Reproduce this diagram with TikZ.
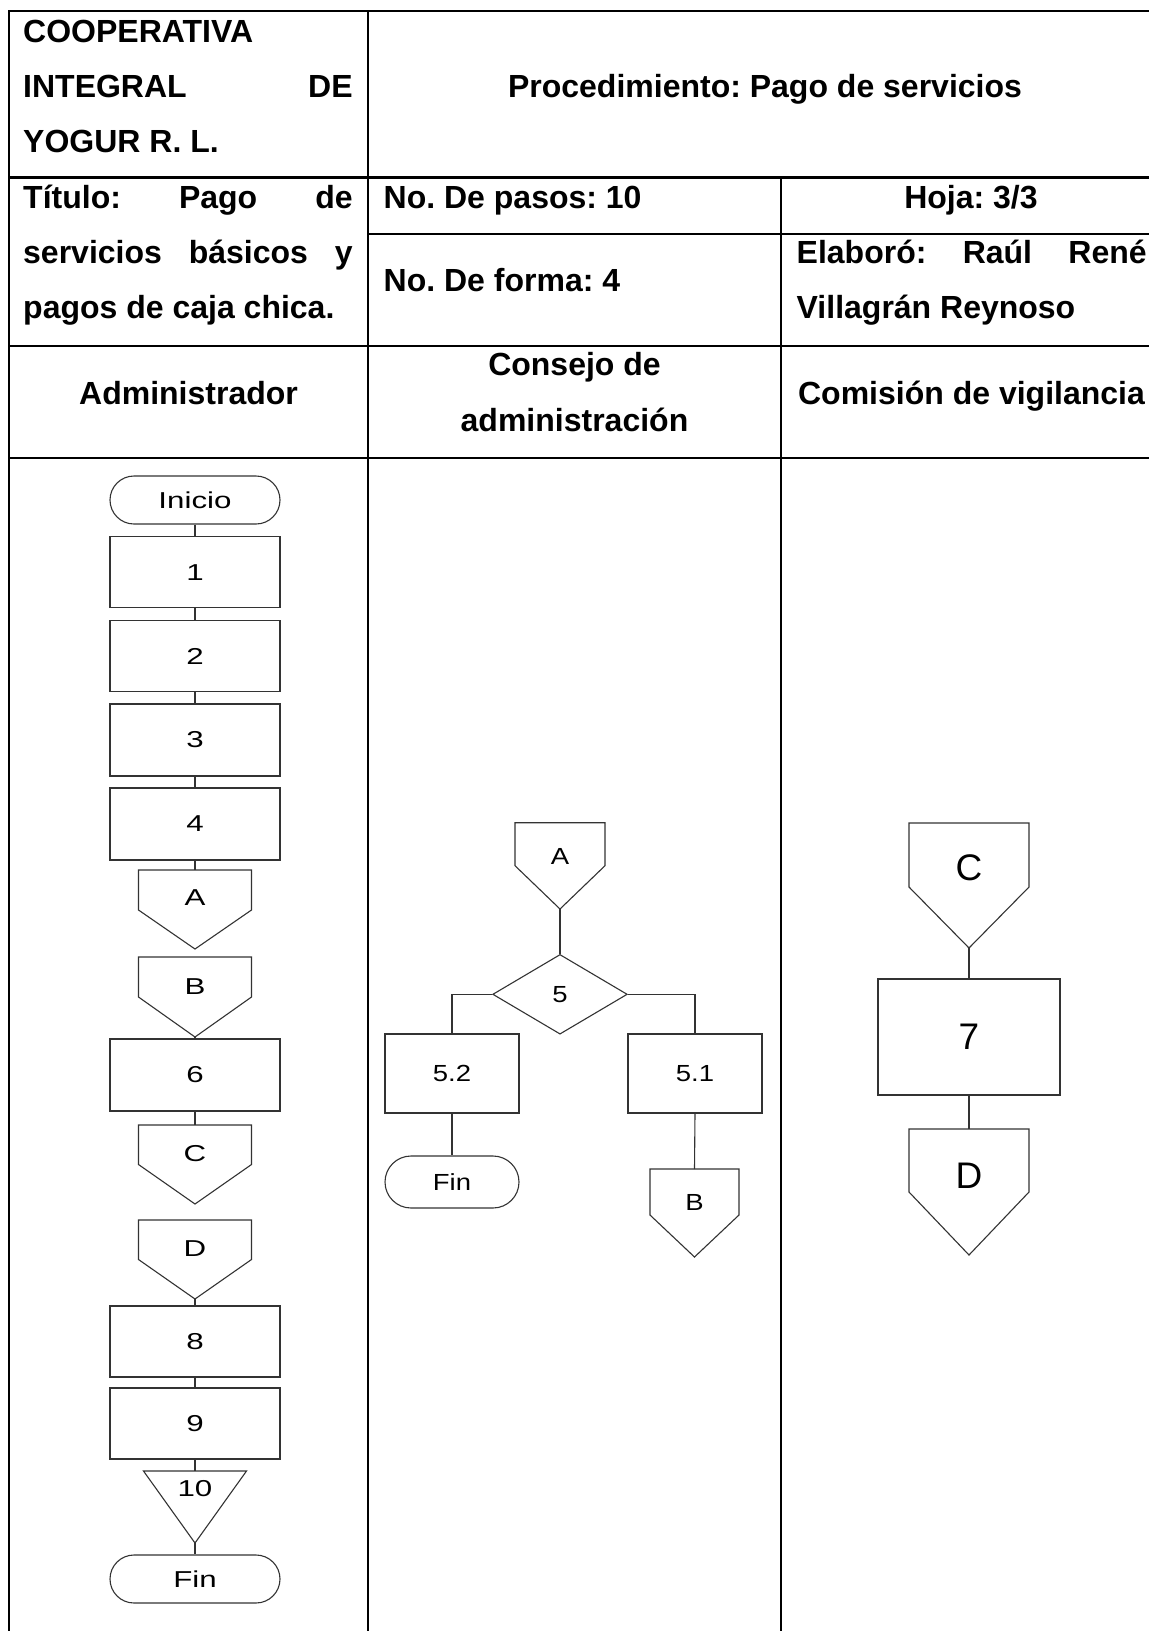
\documentclass[tikz,border=0pt]{standalone}
\usepackage{fontspec}
\setmainfont{Liberation Sans}
\newfontfamily\lanefont[FakeStretch=1.36]{Liberation Sans}
\newfontfamily\midfont[FakeStretch=1.18]{Liberation Sans}
\usetikzlibrary{shapes.geometric,calc}

\tikzset{
  gridline/.style={line width=2.2pt, black},
  flow/.style={draw=black!80, line width=1.1pt},
  hdr/.style={inner sep=0pt, font=\frenchspacing\fontsize{32}{38}\selectfont\bfseries},
  ltxt/.style={inner sep=0pt, font=\lanefont\fontsize{23}{26}\selectfont},
  mtxt/.style={inner sep=0pt, font=\midfont\fontsize{23.3}{26}\selectfont},
  rtxt/.style={inner sep=0pt, font=\fontsize{37}{40}\selectfont},
  proc/.style={flow, rectangle, inner sep=0pt},
  termbox/.style={flow, rectangle, rounded corners=#1, inner sep=0pt},
}

% off-page connector: name, cx, top, shoulder, tip, half width, label y, label style, label
\newcommand{\offpg}[9]{%
  \draw[flow] (#2-#6,#3) -- (#2+#6,#3) -- (#2+#6,#4) -- (#2,#5) -- (#2-#6,#4) -- cycle;
  \node[inner sep=0pt, outer sep=0pt, minimum width=2*#6, minimum height=#5-#3, anchor=north] (#1) at (#2,#3) {};
  \node[#8] (#1t) at (#2,#7) {#9};
}
% triangle: name, cx, top, tip, half width, label y, label
\newcommand{\trianglemark}[7]{%
  \draw[flow] (#2-#5,#3) -- (#2+#5,#3) -- (#2,#4) -- cycle;
  \node[inner sep=0pt, outer sep=0pt, minimum width=2*#5, minimum height=#4-#3, anchor=north] (#1) at (#2,#3) {};
  \node[ltxt] (#1t) at (#2,#6) {#7};
}

\begin{document}
\frenchspacing
\begin{tikzpicture}[x=1pt, y=-1pt]
\fill[white] (0,0) rectangle (1149,1631);
\useasboundingbox (0,0) rectangle (1149,1631);

% ---------- table grid ----------
\draw[gridline] (9,1631) -- (9,11) -- (1149,11);
\draw[gridline] (368,11) -- (368,1631);
\draw[gridline] (9,177.5) -- (1149,177.5);
\draw[gridline] (781,177.5) -- (781,1631);
\draw[gridline] (368,234) -- (1149,234);
\draw[gridline] (9,346) -- (1149,346);
\draw[gridline] (9,458) -- (1149,458);

% ---------- header texts ----------
\node[hdr, anchor=base west] (h1) at (23,42) {COOPERATIVA};
\node[hdr, anchor=base west] (h2) at (23,97) {\makebox[329.5pt][s]{INTEGRAL DE}};
\node[hdr, anchor=base west] (h3) at (23,152) {YOGUR R. L.};
\node[hdr, anchor=base] (h4) at (765,97) {Procedimiento: Pago de servicios};

\node[hdr, anchor=base west] (h5) at (23,208) {\makebox[329.5pt][s]{Título: Pago de}};
\node[hdr, anchor=base west] (h6) at (23,263) {\makebox[329.5pt][s]{servicios básicos y}};
\node[hdr, anchor=base west] (h7) at (23,318.5) {pagos de caja chica.};
\node[hdr, anchor=base west] (h8) at (383.5,208) {No. De pasos: 10};
\node[hdr, anchor=base] (h9) at (971,208) {Hoja: 3/3};
\node[hdr, anchor=base west] (h10) at (383.5,291.5) {No. De forma: 4};
\node[hdr, anchor=base west] (h11) at (796.5,263) {\makebox[350pt][s]{Elaboró: Raúl René}};
\node[hdr, anchor=base west] (h12) at (796.5,318.5) {Villagrán Reynoso};

\node[hdr, anchor=base] (h13) at (188.5,404.5) {Administrador};
\node[hdr, anchor=base] (h14) at (574.5,375) {Consejo de};
\node[hdr, anchor=base] (h15) at (574.5,431.7) {administración};
\node[hdr, anchor=base] (h16) at (971.5,404.5) {Comisión de vigilancia};

% ---------- Administrador lane ----------
\node[termbox=24pt, minimum width=170pt, minimum height=48pt, ltxt] (ini) at (195,500) {Inicio};
\node[proc, minimum width=170pt, minimum height=71pt, ltxt] (p1) at (195,572.3) {1};
\node[proc, minimum width=170pt, minimum height=71pt, ltxt] (p2) at (195,656) {2};
\node[proc, minimum width=170pt, minimum height=72pt, ltxt] (p3) at (195,740) {3};
\node[proc, minimum width=170pt, minimum height=72pt, ltxt] (p4) at (195,824) {4};
\offpg{offA}{195}{870}{910}{949}{56.5}{898}{ltxt}{A}
\offpg{offB}{195}{957}{997}{1037}{56.5}{986.5}{ltxt}{B}
\node[proc, minimum width=170pt, minimum height=72pt, ltxt] (p6) at (195,1075) {6};
\offpg{offC}{195}{1125}{1164.5}{1204}{56.5}{1154}{ltxt}{C}
\offpg{offD}{195}{1220}{1259.5}{1299}{56.5}{1249}{ltxt}{D}
\node[proc, minimum width=170pt, minimum height=71pt, ltxt] (p8) at (195,1341.5) {8};
\node[proc, minimum width=170pt, minimum height=71pt, ltxt] (p9) at (195,1423.5) {9};
\trianglemark{tri}{195}{1471}{1543}{51.5}{1489}{10}
\node[termbox=24pt, minimum width=170pt, minimum height=48pt, ltxt] (fin1) at (195,1579) {Fin};

\draw[flow] (ini.south) -- (p1.north);
\draw[flow] (p1.south) -- (p2.north);
\draw[flow] (p2.south) -- (p3.north);
\draw[flow] (p3.south) -- (p4.north);
\draw[flow] (p4.south) -- (offA.north);
\draw[flow] (offB.south) -- (p6.north);
\draw[flow] (p6.south) -- (offC.north);
\draw[flow] (offD.south) -- (p8.north);
\draw[flow] (p8.south) -- (p9.north);
\draw[flow] (p9.south) -- (tri.north);
\draw[flow] (tri.south) -- (fin1.north);

% ---------- Consejo lane ----------
\offpg{mA}{560}{822.7}{865.7}{909}{45}{856}{mtxt}{A}
\node[flow, diamond, minimum width=134.6pt, minimum height=79.7pt, inner sep=0pt, mtxt] (d5) at (560,994.3) {5};
\node[proc, minimum width=134pt, minimum height=79pt, mtxt] (p52) at (452,1073.5) {5.2};
\node[termbox=26pt, minimum width=134pt, minimum height=52pt, mtxt] (fin2) at (452,1182) {Fin};
\node[proc, minimum width=134pt, minimum height=79pt, mtxt] (p51) at (695,1073.5) {5.1};
\offpg{mB}{694.5}{1169}{1215}{1257}{44.5}{1202}{mtxt}{B}

\draw[flow] (mA.south) -- (d5.north);
\draw[flow] (d5.west) -| (p52.north);
\draw[flow] (d5.east) -| (p51.north);
\draw[flow] (p52.south) -- (fin2.north);
\draw[flow] (p51.south) -- (mB.north);

% ---------- Comision lane ----------
\offpg{rC}{969}{823}{887}{948}{60}{868}{rtxt}{C}
\node[proc, minimum width=182pt, minimum height=116pt, rtxt] (p7) at (969,1037) {7};
\offpg{rD}{969}{1129}{1192}{1255}{60}{1176}{rtxt}{D}

\draw[flow] (rC.south) -- (p7.north);
\draw[flow] (p7.south) -- (rD.north);
\end{tikzpicture}
\end{document}
